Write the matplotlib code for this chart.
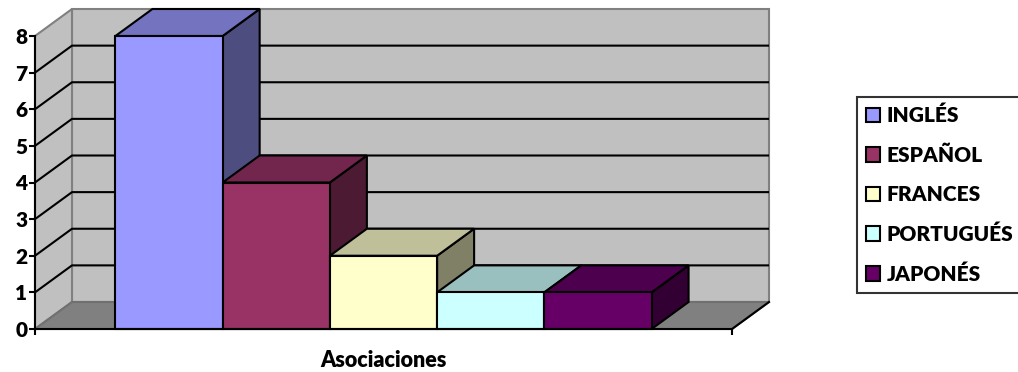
import numpy as np
import matplotlib
matplotlib.use("Agg")
import matplotlib.pyplot as plt
from matplotlib.patches import Polygon, Rectangle, Patch

plt.rcParams['font.family'] = ['Lato', 'DejaVu Sans']
plt.rcParams['font.weight'] = 'bold'

# data
languages = ['INGLÉS', 'ESPAÑOL', 'FRANCES', 'PORTUGUÉS', 'JAPONÉS']
counts = [8, 4, 2, 1, 1]
colors = ['#9999FF', '#993366', '#FFFFCC', '#CCFFFF', '#660066']
category = 'Asociaciones'
y_ticks = list(range(0, 9))

W, H = 1018, 372
fig = plt.figure(figsize=(W / 100, H / 100), dpi=100)
ax = fig.add_axes([35 / W, 43 / H, 697 / W, 293 / H])

gap = 1.5  # excel gap width (150%)
xmax = len(counts) + gap
ymax = 8
ax.set_xlim(0, xmax)
ax.set_ylim(0, ymax)
ax.patch.set_visible(False)

# depth of the 3d box, pixels -> data units
depth_px = (37, 27)
ddx = depth_px[0] / (697) * xmax
ddy = depth_px[1] / (293) * ymax

wall_c = '#C0C0C0'
edge_c = '#808080'
lw = 1.5

# back wall, side wall, floor
ax.add_patch(Polygon([(ddx, ddy), (xmax + ddx, ddy), (xmax + ddx, ymax + ddy), (ddx, ymax + ddy)],
                     closed=True, fc=wall_c, ec=edge_c, lw=lw, clip_on=False, zorder=1))
ax.add_patch(Polygon([(0, 0), (ddx, ddy), (ddx, ymax + ddy), (0, ymax)],
                     closed=True, fc=wall_c, ec=edge_c, lw=lw, clip_on=False, zorder=1))
ax.add_patch(Polygon([(0, 0), (xmax, 0), (xmax + ddx, ddy), (ddx, ddy)],
                     closed=True, fc='#808080', ec='#707070', lw=lw, clip_on=False, zorder=1))
ax.plot([xmax, xmax + ddx], [0, ddy], color='k', lw=lw, clip_on=False, zorder=2)

# gridlines on walls
for v in y_ticks[1:-1]:
    ax.plot([0, ddx, xmax + ddx], [v, v + ddy, v + ddy], color='k', lw=lw,
            clip_on=False, zorder=2, solid_capstyle='butt')


def shade(c, f):
    rgb = np.array(matplotlib.colors.to_rgb(c))
    return tuple(rgb * f)


# bars, left to right so later bars hide earlier side faces
for i, (v, c) in enumerate(zip(counts, colors)):
    x0 = gap / 2 + i
    x1 = x0 + 1
    z = 3 + i
    ax.add_patch(Polygon([(x1, 0), (x1 + ddx, ddy), (x1 + ddx, v + ddy), (x1, v)],
                         closed=True, fc=shade(c, 0.5), ec='k', lw=lw, clip_on=False, zorder=z))
    ax.add_patch(Polygon([(x0, v), (x1, v), (x1 + ddx, v + ddy), (x0 + ddx, v + ddy)],
                         closed=True, fc=shade(c, 0.75), ec='k', lw=lw, clip_on=False, zorder=z))
    ax.add_patch(Rectangle((x0, 0), 1, v, fc=c, ec='k', lw=lw, clip_on=False, zorder=z))

# axes
for s in ['top', 'right']:
    ax.spines[s].set_visible(False)
for s in ['left', 'bottom']:
    ax.spines[s].set_linewidth(lw)
    ax.spines[s].set_color('k')
    ax.spines[s].set_zorder(20)
ax.set_yticks(y_ticks)
ax.set_yticklabels([str(t) for t in y_ticks], fontsize=15, fontweight='heavy')
ax.set_xticks([0, xmax])
ax.set_xticklabels(['', ''])
ax.tick_params(axis='both', direction='out', length=4.5, width=lw, color='k')
ax.tick_params(axis='y', pad=1)
ax.set_xlabel(category, fontsize=15.5, fontweight='heavy', labelpad=7)

# legend
handles = [Patch(fc=c, ec='k', lw=lw) for c in colors]
leg = fig.legend(handles, languages, loc='upper left',
                 bbox_to_anchor=(856.5 / W, 1 - 96.5 / H), borderaxespad=0,
                 prop={'size': 15, 'weight': 'heavy'},
                 frameon=True, fancybox=False, edgecolor='k',
                 handlelength=0.7, handleheight=0.7, handletextpad=0.3,
                 labelspacing=0.97, borderpad=0.45)
leg.get_frame().set_linewidth(lw)

fig.savefig('out.png', dpi=100)
